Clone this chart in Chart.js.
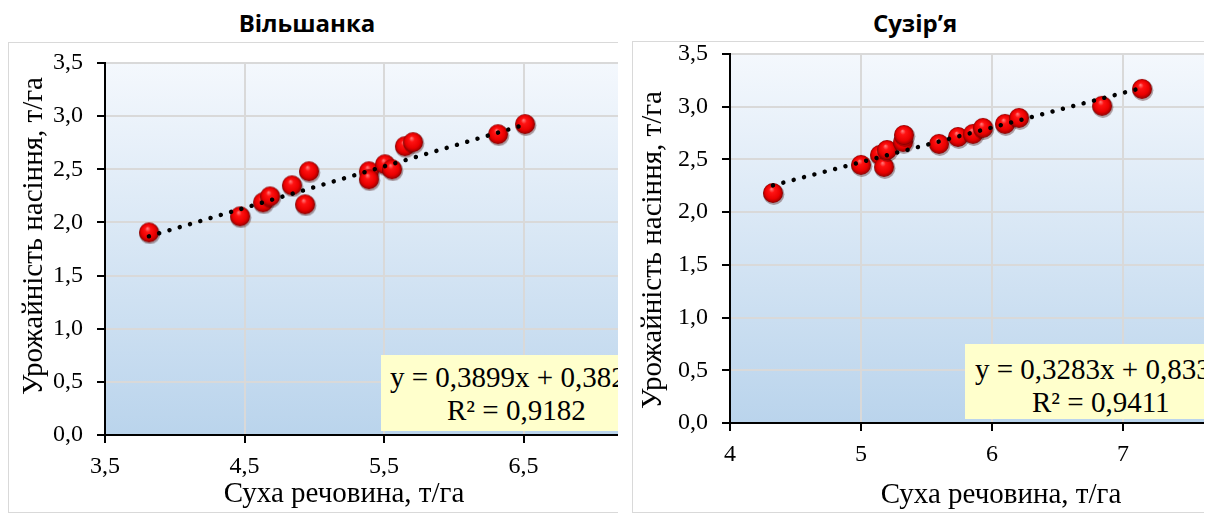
<!DOCTYPE html>
<html><head><meta charset="utf-8">
<script src="https://cdn.jsdelivr.net/npm/chart.js@4.4.1/dist/chart.umd.min.js"></script>
<style>
html,body{margin:0;padding:0;background:#fff;width:1212px;height:516px;overflow:hidden;}
body{position:relative;}
.wrap{position:absolute;overflow:hidden;}
.frame{position:absolute;box-sizing:border-box;border:1px solid #d9d9d9;border-right:none;pointer-events:none;}
.title{position:absolute;font-family:"Open Sans",sans-serif;font-weight:700;font-size:24px;line-height:33px;white-space:nowrap;transform:translateX(-50%);color:#000;}
.axt{position:absolute;font-family:"Liberation Serif","Times New Roman",serif;font-size:29px;line-height:34px;height:34px;width:420px;text-align:center;white-space:nowrap;color:#000;}
.eq{position:absolute;background:#ffffcc;font-family:"Liberation Serif","Times New Roman",serif;font-size:29px;line-height:33px;white-space:nowrap;color:#000;overflow:visible;}
canvas{position:absolute;background:#fff;}
</style></head><body>

<div class="wrap" id="wL" style="left:8px;top:42px;width:610px;height:471px;">
  <canvas id="cL" width="700" height="516" style="left:-8px;top:-42px;width:700px;height:516px;"></canvas>
  <div class="eq" style="left:373px;top:313px;width:280px;height:76px;">
    <div style="padding-top:6px;padding-left:9px;">y = 0,3899x + 0,382</div>
    <div style="padding-left:66px;">R² = 0,9182</div>
  </div>
</div>
<div class="frame" style="left:8px;top:42px;width:610px;height:471px;"></div>

<div class="wrap" id="wR" style="left:632px;top:41px;width:572px;height:472px;">
  <canvas id="cR" width="680" height="516" style="left:-12px;top:-41px;width:680px;height:516px;"></canvas>
  <div class="eq" style="left:333px;top:303px;width:280px;height:75px;">
    <div style="padding-top:9px;padding-left:10px;">y = 0,3283x + 0,833</div>
    <div style="padding-left:67px;">R² = 0,9411</div>
  </div>
</div>
<div class="frame" style="left:632px;top:41px;width:572px;height:472px;"></div>

<div class="title" style="left:307px;top:6px;">Вільшанка</div>
<div class="title" style="left:915px;top:6px;">Сузір’я</div>

<div class="axt" style="left:134px;top:475px;">Суха речовина, т/га</div>
<div class="axt" style="left:791px;top:476px;">Суха речовина, т/га</div>
<div class="axt" style="left:-178px;top:219px;transform:rotate(-90deg);">Урожайність насіння, т/га</div>
<div class="axt" style="left:441px;top:233px;transform:rotate(-90deg);">Урожайність насіння, т/га</div>

<script>
// ---- data ----
const vilX = [3.815, 4.468, 4.633, 4.683, 4.84, 4.934, 4.962, 5.392, 5.392, 5.507, 5.557, 5.65, 5.708, 6.317, 6.511];
const vilY = [1.906, 2.057, 2.189, 2.245, 2.349, 2.17, 2.481, 2.481, 2.406, 2.547, 2.5, 2.717, 2.755, 2.83, 2.925];
const suzX = [4.328, 5.0, 5.145, 5.176, 5.198, 5.321, 5.328, 5.595, 5.74, 5.855, 5.931, 6.099, 6.206, 6.84, 7.145];
const suzY = [2.182, 2.448, 2.543, 2.429, 2.59, 2.666, 2.732, 2.647, 2.713, 2.742, 2.799, 2.837, 2.894, 3.008, 3.169];
const vilTrendCoef = [0.3899, 0.382];   // slope, intercept (from the chart's equation)
const suzTrendCoef = [0.3283, 0.833];
const yTickValues = [0, 0.5, 1, 1.5, 2, 2.5, 3, 3.5];
const yTickLabels = ['0,0', '0,5', '1,0', '1,5', '2,0', '2,5', '3,0', '3,5'];
const vilXTickValues = [3.5, 4.5, 5.5, 6.5, 7.5];
const vilXTickLabels = ['3,5', '4,5', '5,5', '6,5', '7,5'];
const suzXTickValues = [4, 5, 6, 7, 8];
const suzXTickLabels = ['4', '5', '6', '7', '8'];

Chart.defaults.font.family = '"Liberation Serif", "Times New Roman", serif';
Chart.defaults.font.size = 24;
Chart.defaults.color = '#000';

function makeSphere(d) {
  const c = document.createElement('canvas');
  const s = d + 4;
  c.width = s; c.height = s;
  const g = c.getContext('2d');
  const cx = s / 2, cy = s / 2, r = d / 2;
  g.beginPath(); g.arc(cx + 0.8, cy + 1.3, r + 0.6, 0, Math.PI * 2);
  g.fillStyle = 'rgba(60,0,0,0.35)'; g.fill();
  const rg = g.createRadialGradient(cx - r * 0.15, cy - r * 0.4, r * 0.05, cx, cy, r);
  rg.addColorStop(0, '#ff7070');
  rg.addColorStop(0.25, '#ff1212');
  rg.addColorStop(0.7, '#ea0000');
  rg.addColorStop(0.9, '#b00000');
  rg.addColorStop(1, '#780000');
  g.beginPath(); g.arc(cx, cy, r, 0, Math.PI * 2);
  g.fillStyle = rg; g.fill();
  return c;
}
const sphere = makeSphere(20);

const plotBg = {
  id: 'plotBg',
  beforeDraw(chart) {
    const { ctx, chartArea: a } = chart;
    const g = ctx.createLinearGradient(0, a.top, 0, a.bottom);
    g.addColorStop(0, '#f4f8fd');
    g.addColorStop(1, '#bad4ec');
    ctx.save();
    ctx.fillStyle = g;
    ctx.fillRect(a.left, a.top, a.right - a.left, a.bottom - a.top);
    ctx.restore();
  }
};

function build(id, xs, ys, coef, xMin, xMax, xTickVals, xTickLabs, pad, yWidth, xHeight) {
  const pts = xs.map((x, i) => ({ x: x, y: ys[i] }));
  const x0 = Math.min(...xs), x1 = Math.max(...xs);
  const trend = [{ x: x0, y: coef[0] * x0 + coef[1] }, { x: x1, y: coef[0] * x1 + coef[1] }];
  const tickFont = { family: '"Liberation Serif", "Times New Roman", serif', size: 24 };
  return new Chart(document.getElementById(id), {
    type: 'scatter',
    data: {
      datasets: [
        { type: 'line', data: trend, order: 0, showLine: true, borderColor: '#000', borderWidth: 4.5,
          borderDash: [0.01, 10.7], borderCapStyle: 'round', pointRadius: 0, fill: false },
        { data: pts, order: 1, pointStyle: sphere, pointRadius: 10 }
      ]
    },
    options: {
      responsive: false, animation: false, devicePixelRatio: 1,
      layout: { padding: pad },
      plugins: { legend: { display: false }, tooltip: { enabled: false }, title: { display: false } },
      scales: {
        x: {
          type: 'linear', min: xMin, max: xMax,
          afterBuildTicks: s => { s.ticks = xTickVals.map(v => ({ value: v })); },
          afterFit: s => { s.height = xHeight; },
          ticks: { callback: (v, i) => xTickLabs[i], font: tickFont, color: '#000', padding: 9, maxRotation: 0, autoSkip: false },
          grid: { color: '#d9d9d9', lineWidth: 2, tickColor: '#000', tickLength: 8, tickWidth: 2 },
          border: { color: '#000', width: 2 }
        },
        y: {
          type: 'linear', min: 0, max: 3.5,
          afterBuildTicks: s => { s.ticks = yTickValues.map(v => ({ value: v })); },
          afterFit: s => { s.width = yWidth; },
          ticks: { callback: (v, i) => yTickLabels[i], font: tickFont, color: '#000', padding: 14, autoSkip: false },
          grid: { color: '#d9d9d9', lineWidth: 2, tickColor: '#000', tickLength: 8, tickWidth: 2 },
          border: { color: '#000', width: 2 }
        }
      }
    },
    plugins: [plotBg]
  });
}

build('cL', vilX, vilY, vilTrendCoef, 3.5, 7.5, vilXTickValues, vilXTickLabels,
  { left: 0, top: 63, right: 37, bottom: 0 }, 105, 81);
build('cR', suzX, suzY, suzTrendCoef, 4, 8, suzXTickValues, suzXTickLabels,
  { left: 0, top: 54, right: 46, bottom: 0 }, 110, 93);
</script>
</body></html>
